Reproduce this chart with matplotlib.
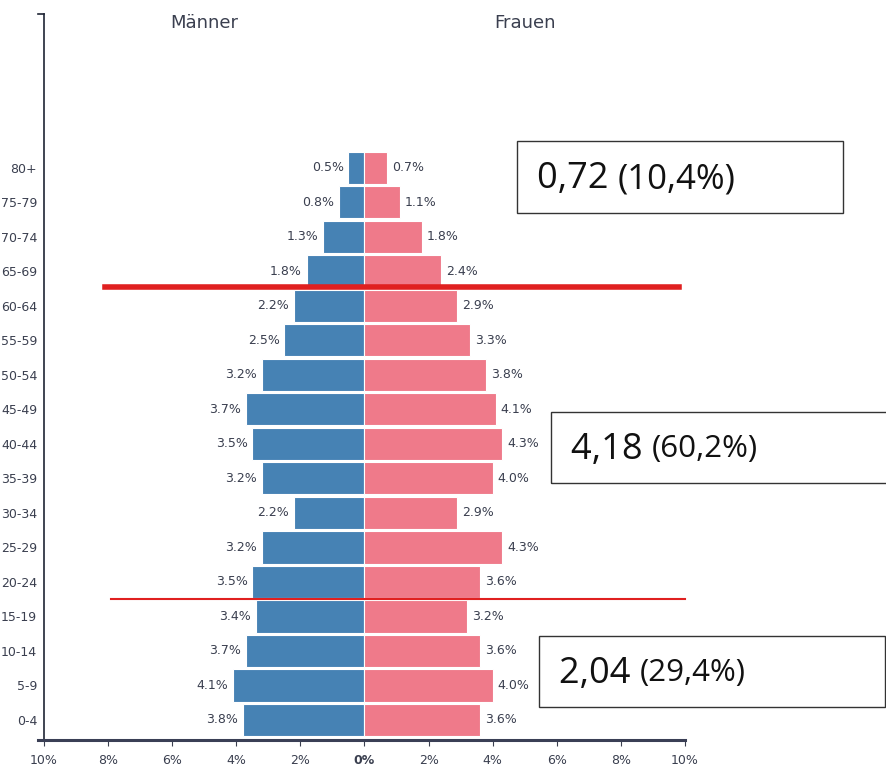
import matplotlib.pyplot as plt
from matplotlib.patches import Rectangle
import numpy as np

# Daten aus dem Bild
ages = ["0-4", "5-9", "10-14", "15-19", "20-24", "25-29", "30-34", "35-39", "40-44",
        "45-49", "50-54", "55-59", "60-64", "65-69", "70-74", "75-79", "80+"]
men = [3.8, 4.1, 3.7, 3.4, 3.5, 3.2, 2.2, 3.2, 3.5, 3.7, 3.2, 2.5, 2.2, 1.8, 1.3, 0.8, 0.5]
women = [3.6, 4.0, 3.6, 3.2, 3.6, 4.3, 2.9, 4.0, 4.3, 4.1, 3.8, 3.3, 2.9, 2.4, 1.8, 1.1, 0.7]
xticks = [-10, -8, -6, -4, -2, 0, 2, 4, 6, 8, 10]
groups_big = ["0,72", "4,18", "2,04"]
groups_small = ["(10,4%)", "(60,2%)", "(29,4%)"]

blue = "#4682b4"
pink = "#ef7a8a"
txt = "#3a3f4f"
fs = 9

fig = plt.figure(figsize=(8.87, 7.67), dpi=100)
ax = fig.add_axes([44/887, 27/767, 641/887, 726/767])

y = np.arange(len(ages))
ax.barh(y, [-m for m in men], height=0.93, color=blue, edgecolor="white", linewidth=0.8)
ax.barh(y, women, height=0.93, color=pink, edgecolor="white", linewidth=0.8)

for i in range(len(ages)):
    ax.text(-men[i] - 0.15, y[i], f"{men[i]:.1f}%", ha="right", va="center",
            fontsize=fs, color=txt)
    ax.text(women[i] + 0.15, y[i], f"{women[i]:.1f}%", ha="left", va="center",
            fontsize=fs, color=txt)

ax.set_xlim(-10, 10)
ax.set_ylim(-0.58, 20.46)
ax.set_yticks(y)
ax.set_yticklabels(ages, fontsize=fs, color=txt)
ax.tick_params(axis="y", length=0, pad=5)
ax.set_xticks(xticks)
ax.set_xticklabels([f"{abs(t)}%" for t in xticks], fontsize=fs, color=txt)
ax.tick_params(axis="x", length=4, color=txt, pad=6)
ax.get_xticklabels()[5].set_fontweight("bold")

for s in ["top", "right"]:
    ax.spines[s].set_visible(False)
ax.spines["left"].set_color("#1f2535")
ax.spines["left"].set_linewidth(1.2)
ax.spines["bottom"].set_color("#3a3f55")
ax.spines["bottom"].set_linewidth(2.2)
ax.spines["bottom"].set_bounds(-10.2, 10)
# kleiner Strich oben links
ax.plot([-10.2, -10], [20.46, 20.46], color="#1f2535", lw=1.2, clip_on=False)

ax.text(-5, 20.2, "Männer", ha="center", va="center", fontsize=13, color=txt)
ax.text(5, 20.2, "Frauen", ha="center", va="center", fontsize=13, color=txt)

# rote Trennlinien
ax.plot([-8.1, 9.8], [12.55, 12.55], color="#e02020", lw=4, clip_on=False, zorder=5)
ax.plot([-7.9, 10.0], [3.51, 3.51], color="#e02020", lw=1.5, clip_on=False, zorder=5)

# Kästen mit Zahlen
boxes = [(517, 141, 326, 72), (551, 412, 345, 71), (539, 636, 346, 71)]
for k, (bx, by, bw, bh) in enumerate(boxes):
    fig.patches.append(Rectangle((bx/887, 1 - (by + bh)/767), bw/887, bh/767,
                                 transform=fig.transFigure, fill=False,
                                 edgecolor="#333333", lw=1.0))
    cy = 1 - (by + bh/2 + 2)/767
    tx = (bx + 20)/887
    big = fig.text(tx, cy, groups_big[k] + " ", fontsize=26, va="center", ha="left",
                   family="Open Sans", color="#111111")
    fig.canvas.draw()
    bb = big.get_window_extent()
    size = 25 if k == 0 else 22.5
    fig.text(bb.x1/887, cy, groups_small[k], fontsize=size, va="center", ha="left",
             family="Open Sans", color="#111111")

fig.savefig("out.png", dpi=100)
